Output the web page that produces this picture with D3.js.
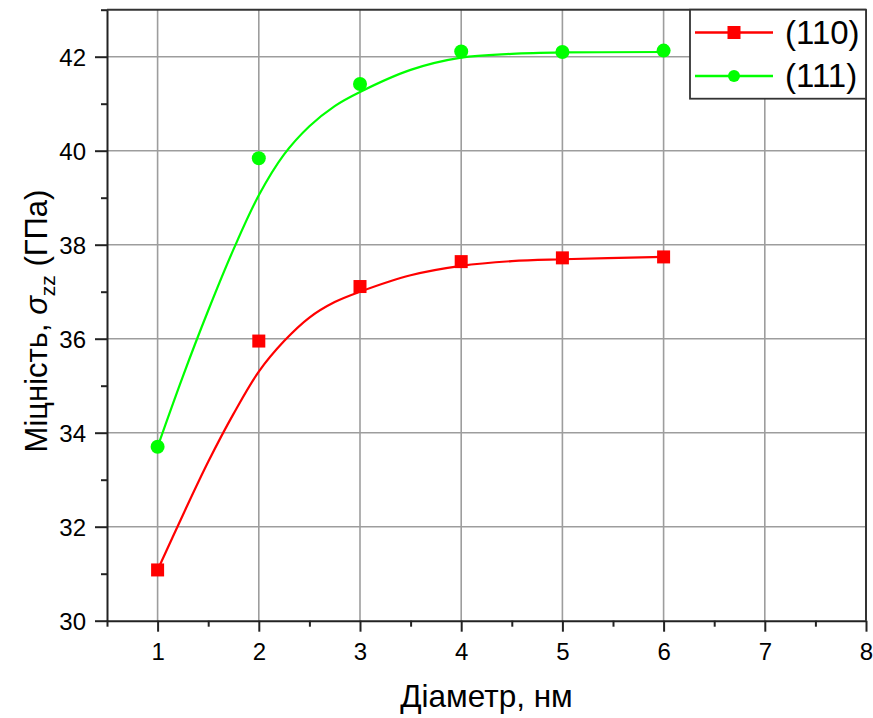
<!DOCTYPE html>
<html>
<head>
<meta charset="utf-8">
<script src="https://cdn.jsdelivr.net/npm/d3@7"></script>
<style>
  body { margin: 0; background: #fff; }
  svg { font-family: "Liberation Sans", Arial, sans-serif; }
</style>
</head>
<body>
<div id="chart"></div>
<script>
// measured points
const diameters = [1, 2, 3, 4, 5, 6];
const strength110 = [31.08, 35.95, 37.11, 37.64, 37.72, 37.74];
const strength111 = [33.70, 39.84, 41.42, 42.11, 42.10, 42.13];

// fitted curves
const fitX = [1, 1.25, 1.5, 1.75, 2, 2.25, 2.5, 2.75, 3, 3.5, 4, 4.5, 5, 6];
const fitY110 = [31.08, 32.25, 33.38, 34.4, 35.3, 35.95, 36.45, 36.78, 37.0, 37.35, 37.55, 37.65, 37.69, 37.74];
const fitY111 = [33.70, 35.2, 36.6, 37.9, 39.05, 39.92, 40.52, 40.95, 41.25, 41.72, 41.98, 42.06, 42.09, 42.1];

const seriesNames = ["(110)", "(111)"];
const seriesColors = ["#ff0000", "#00ff00"];

const xTicks = d3.range(0.5, 8.01, 0.5);
const yTicks = d3.range(30, 43.01, 1);

const width = 873, height = 718;
const mLeft = 107, mRight = 866, mTop = 9.7, mBottom = 620.7;

const svg = d3.select("#chart").append("svg")
    .attr("width", width)
    .attr("height", height);

const x = d3.scaleLinear().domain([0.5, 8]).range([mLeft, mRight]);
const y = d3.scaleLinear().domain([30, 43]).range([mBottom, mTop]);

const isMajorX = v => Math.abs(v - Math.round(v)) < 1e-6;
const isMajorY = v => Math.round(v) % 2 === 0;

// grid
svg.append("g")
    .selectAll("line")
    .data(xTicks.filter(v => isMajorX(v) && v > 0.5 && v < 8))
    .join("line")
    .attr("x1", d => x(d)).attr("x2", d => x(d))
    .attr("y1", mTop).attr("y2", mBottom)
    .attr("stroke", "#9d9d9d")
    .attr("stroke-width", 1.6);

svg.append("g")
    .selectAll("line")
    .data(yTicks.filter(v => isMajorY(v) && v > 30 && v < 43))
    .join("line")
    .attr("x1", mLeft).attr("x2", mRight)
    .attr("y1", d => y(d)).attr("y2", d => y(d))
    .attr("stroke", "#9d9d9d")
    .attr("stroke-width", 1.6);

// frame top/right
svg.append("line")
    .attr("x1", mLeft).attr("x2", mRight).attr("y1", mTop).attr("y2", mTop)
    .attr("stroke", "#333").attr("stroke-width", 2);
svg.append("line")
    .attr("x1", mRight).attr("x2", mRight).attr("y1", mTop).attr("y2", mBottom)
    .attr("stroke", "#333").attr("stroke-width", 2);

// axes
const xAxis = d3.axisBottom(x)
    .tickValues(xTicks)
    .tickFormat(d => isMajorX(d) ? d3.format("d")(d) : "")
    .tickSizeOuter(0)
    .tickPadding(0);

const gx = svg.append("g")
    .attr("transform", `translate(0,${mBottom})`)
    .call(xAxis);

gx.select(".domain").attr("stroke", "#222").attr("stroke-width", 2);
gx.selectAll(".tick line")
    .attr("stroke", "#222").attr("stroke-width", 2)
    .attr("y2", d => isMajorX(d) ? 11 : 6);
gx.selectAll(".tick text")
    .attr("y", 39.5)
    .attr("dy", 0)
    .attr("font-size", 24)
    .attr("fill", "#000");

const yAxis = d3.axisLeft(y)
    .tickValues(yTicks)
    .tickFormat(d => isMajorY(d) ? d3.format("d")(d) : "")
    .tickSizeOuter(0);

const gy = svg.append("g")
    .attr("transform", `translate(${mLeft},0)`)
    .call(yAxis);

gy.select(".domain").attr("stroke", "#222").attr("stroke-width", 2);
gy.selectAll(".tick line")
    .attr("stroke", "#222").attr("stroke-width", 2)
    .attr("x2", d => isMajorY(d) ? -12 : -6);
gy.selectAll(".tick text")
    .attr("x", -21)
    .attr("dy", "0.36em")
    .attr("font-size", 24)
    .attr("fill", "#000");

// axis titles
svg.append("text")
    .attr("x", (mLeft + mRight) / 2)
    .attr("y", 707)
    .attr("text-anchor", "middle")
    .attr("font-size", 31.5)
    .text("Діаметр, нм");

const yTitle = svg.append("text")
    .attr("transform", `translate(47,321) rotate(-90)`)
    .attr("text-anchor", "middle")
    .attr("font-size", 31);
yTitle.append("tspan").text("Міцність, ");
yTitle.append("tspan").attr("font-style", "italic").text("σ");
yTitle.append("tspan").attr("font-size", 21).attr("dy", 8).text("zz");
yTitle.append("tspan").attr("dy", -8).text(" (ГПа)");

// curves
const line = d3.line()
    .x(d => x(d[0]))
    .y(d => y(d[1]))
    .curve(d3.curveCatmullRom.alpha(0.5));

const fits = [d3.zip(fitX, fitY110), d3.zip(fitX, fitY111)];

svg.append("g")
    .selectAll("path")
    .data(fits)
    .join("path")
    .attr("fill", "none")
    .attr("stroke", (d, i) => seriesColors[i])
    .attr("stroke-width", 2.2)
    .attr("d", line);

// markers
const sq = 13;
svg.append("g")
    .selectAll("rect")
    .data(d3.zip(diameters, strength110))
    .join("rect")
    .attr("x", d => x(d[0]) - sq / 2)
    .attr("y", d => y(d[1]) - sq / 2)
    .attr("width", sq).attr("height", sq)
    .attr("fill", seriesColors[0]);

svg.append("g")
    .selectAll("circle")
    .data(d3.zip(diameters, strength111))
    .join("circle")
    .attr("cx", d => x(d[0]))
    .attr("cy", d => y(d[1]))
    .attr("r", 7)
    .attr("fill", seriesColors[1]);

// legend
const legend = svg.append("g");
legend.append("rect")
    .attr("x", 690).attr("y", mTop)
    .attr("width", mRight - 690).attr("height", 89)
    .attr("fill", "#fff")
    .attr("stroke", "#333")
    .attr("stroke-width", 1.8);

seriesNames.forEach((name, i) => {
    const ly = 32.5 + i * 43.5;
    legend.append("line")
        .attr("x1", 695).attr("x2", 773)
        .attr("y1", ly).attr("y2", ly)
        .attr("stroke", seriesColors[i])
        .attr("stroke-width", 2.6);
    if (i === 0) {
        legend.append("rect")
            .attr("x", 734 - sq / 2).attr("y", ly - sq / 2)
            .attr("width", sq).attr("height", sq)
            .attr("fill", seriesColors[i]);
    } else {
        legend.append("circle")
            .attr("cx", 734).attr("cy", ly)
            .attr("r", 6)
            .attr("fill", seriesColors[i]);
    }
    legend.append("text")
        .attr("x", 785)
        .attr("y", ly + 11)
        .attr("font-size", 33)
        .text(name);
});
</script>
</body>
</html>
